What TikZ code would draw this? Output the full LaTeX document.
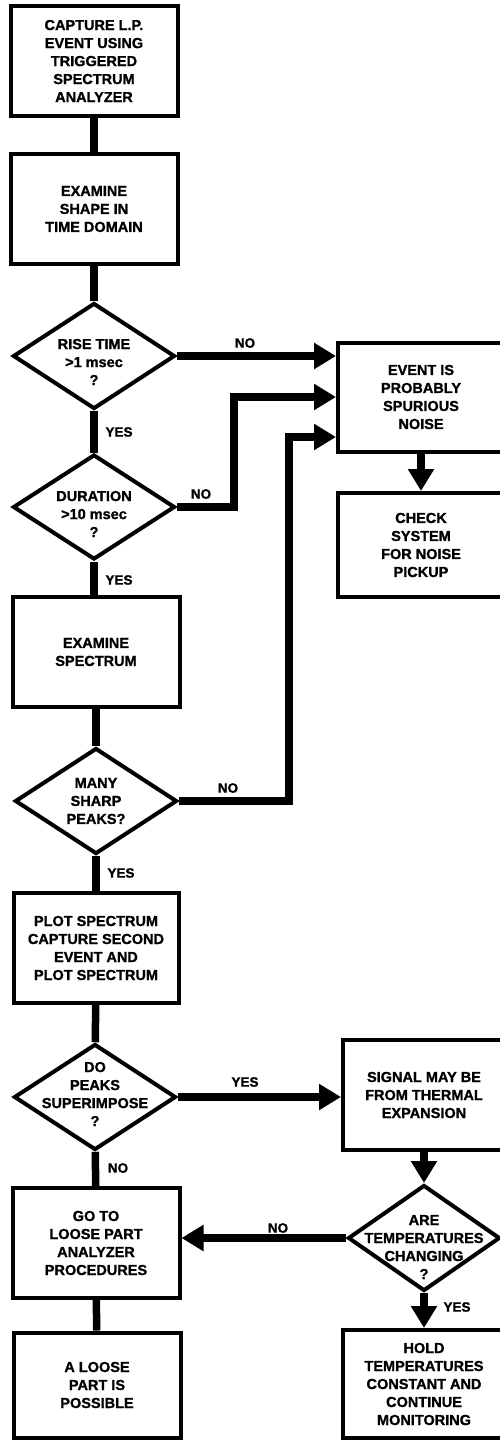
\documentclass[tikz,border=0pt]{standalone}
\usepackage{fontspec}
\setmainfont{Liberation Sans}[BoldFeatures={FakeBold=1.2}]
\usetikzlibrary{positioning, arrows.meta, shapes.geometric}

\begin{document}
\begin{tikzpicture}[x=1pt, y=-1pt,
    stepbox/.style={
      draw, line width=4pt, align=center, inner sep=0pt,
      minimum width=167pt, minimum height=110pt,
      font=\bfseries\fontsize{14.5}{18}\selectfont
    },
    decide/.style={
      draw, diamond, line width=4pt, inner sep=0pt,
      minimum width=162pt, minimum height=106pt
    },
    dtext/.style={align=center, font=\bfseries\fontsize{14.5}{18}\selectfont},
    lbl/.style={font=\bfseries\fontsize{13.5}{15}\selectfont},
    link/.style={line width=7.5pt},
    arr/.style={line width=7.5pt, -{Triangle[length=22pt, width=25pt]}},
  ]
    \useasboundingbox (0,0) rectangle (499,1443);

    % left column
    \node[stepbox] (cap) at (94,61) {CAPTURE L.P.\\EVENT USING\\TRIGGERED\\SPECTRUM\\ANALYZER};
    \node[stepbox] (shape) at (94,209) {EXAMINE\\SHAPE IN\\TIME DOMAIN};
    \node[decide, label={[dtext, yshift=-6pt]center:{RISE TIME\\>1 msec\\?}}] (rise) at (94,356) {};
    \node[decide, minimum height=105pt, label={[dtext, yshift=-7pt]center:{DURATION\\>10 msec\\?}}] (dur) at (94,507) {};
    \node[stepbox] (exspec) at (96,652) {EXAMINE\\SPECTRUM};
    \node[decide, label={[dtext]center:{MANY\\SHARP\\PEAKS?}}] (peaks) at (96,801) {};
    \node[stepbox, minimum width=165pt] (plot) at (96,948) {PLOT SPECTRUM\\CAPTURE SECOND\\EVENT AND\\PLOT SPECTRUM};
    \node[decide, label={[dtext, yshift=3pt]center:{DO\\PEAKS\\SUPERIMPOSE\\?}}] (super) at (95,1097) {};
    \node[stepbox] (goto) at (96,1243) {GO TO\\LOOSE PART\\ANALYZER\\PROCEDURES};
    \node[stepbox, minimum height=105pt] (loose) at (97,1385) {A LOOSE\\PART IS\\POSSIBLE};

    % right column
    \node[stepbox, minimum width=166pt, minimum height=109pt] (noise) at (421,397) {EVENT IS\\PROBABLY\\SPURIOUS\\NOISE};
    \node[stepbox, minimum width=166pt, minimum height=104pt] (check) at (421,545) {CHECK\\SYSTEM\\FOR NOISE\\PICKUP};
    \node[stepbox, minimum width=162pt] (thermal) at (424,1095) {SIGNAL MAY BE\\FROM THERMAL\\EXPANSION};
    \node[decide, minimum width=152pt, label={[dtext, yshift=-9pt]center:{ARE\\TEMPERATURES\\CHANGING\\?}}] (temps) at (424,1238) {};
    \node[stepbox, minimum width=162pt, minimum height=108pt] (hold) at (424,1384) {HOLD\\TEMPERATURES\\CONSTANT AND\\CONTINUE\\MONITORING};

    % yes / no
    \node[lbl] (no1) at (245,343) {NO};
    \node[lbl] (yes1) at (119,432) {YES};
    \node[lbl] (no2) at (201,494) {NO};
    \node[lbl] (yes2) at (119,580) {YES};
    \node[lbl] (no3) at (228,788) {NO};
    \node[lbl] (yes3) at (121,873) {YES};
    \node[lbl] (yes4) at (245,1082) {YES};
    \node[lbl] (no4) at (118,1168) {NO};
    \node[lbl] (no5) at (278,1228) {NO};
    \node[lbl] (yes5) at (457,1307) {YES};

    % connectors
    \draw[link] (cap) -- (shape);
    \draw[link] (shape) -- (rise);
    \draw[link] (rise) -- (dur);
    \draw[link] (dur.south) -- (dur.south |- exspec.north);
    \draw[link] (exspec) -- (peaks);
    \draw[link] (peaks) -- (plot);
    \draw[link] (plot) -- (super);
    \draw[link] (super) -- (goto);
    \draw[link] (goto) -- (loose);

    \draw[arr] (rise.east) -- (rise.east -| noise.west);
    \draw[arr] (dur.east) -- ++(57,0) |- (noise.west);
    \draw[arr] (peaks.east) -- ++(110,0) |- ([yshift=-40pt]noise.west);
    \draw[arr] (noise) -- (check);
    \draw[arr] (super.east) -- (super.east -| thermal.west);
    \draw[arr] (thermal) -- (temps);
    \draw[arr] (temps.west) -- (temps.west -| goto.east);
    \draw[arr] (temps) -- (hold);
  \end{tikzpicture}
\end{document}
